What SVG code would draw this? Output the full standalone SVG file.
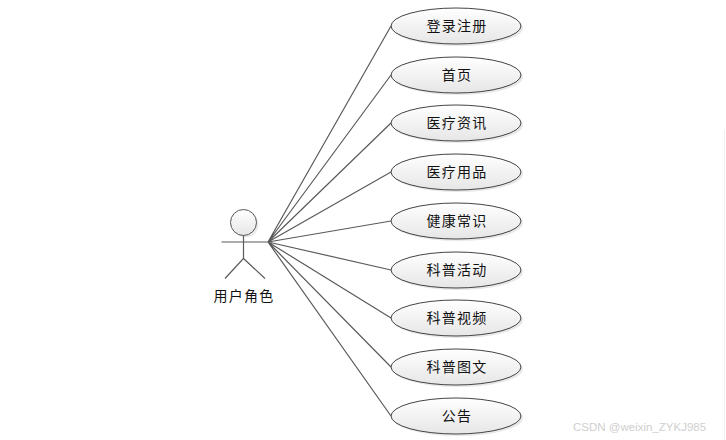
<svg xmlns="http://www.w3.org/2000/svg" width="726" height="440" viewBox="0 0 726 440">
<style>
.l{stroke:#5a5a5a;stroke-width:1.200;fill:none}
.e{fill:url(#g);stroke:#444;stroke-width:1}
.es{fill:#d8d8d8;opacity:.6}
.t{font-family:"Noto Sans CJK SC","Liberation Sans",sans-serif;font-size:14px;letter-spacing:1.200px;fill:#111;text-anchor:middle}
</style>
<defs>
<linearGradient id="g" x1="0" y1="0" x2="0" y2="1"><stop offset="0" stop-color="#ffffff"/><stop offset="1" stop-color="#e6e6e6"/></linearGradient>
<ellipse id="o" cx="456" cy="0" rx="65" ry="18"/>
</defs>
<rect width="726" height="440" fill="#fff"/>
<line x1="724.500" y1="130" x2="724.500" y2="440" stroke="#f0f0f0"/>
<g id="connectors">
<path class="l" d="M268 242L391 26M268 242L391 75M268 242L391 123M268 242L391 172M268 242L391 221M268 242L391 270M268 242L391 318M268 242L391 367M268 242L391 416"/>
</g>
<g id="actor">
<circle cx="245.500" cy="224.500" r="13" fill="#ddd" opacity=".6"/>
<circle cx="243.500" cy="222.500" r="13" fill="url(#g)" stroke="#555"/>
<path class="l" d="M221.500 242H268M243.500 235.500V258.500L225 278.500M243.500 258.500L265 278.500"/>
<text class="t" x="244" y="301">用户角色</text>
</g>
<g id="n1"><use href="#o" class="es" x="2" y="28"/><use href="#o" class="e" y="26"/><text class="t" x="457" y="31">登录注册</text></g>
<g id="n2"><use href="#o" class="es" x="2" y="77"/><use href="#o" class="e" y="75"/><text class="t" x="457" y="80">首页</text></g>
<g id="n3"><use href="#o" class="es" x="2" y="125"/><use href="#o" class="e" y="123"/><text class="t" x="457" y="128">医疗资讯</text></g>
<g id="n4"><use href="#o" class="es" x="2" y="174"/><use href="#o" class="e" y="172"/><text class="t" x="457" y="177">医疗用品</text></g>
<g id="n5"><use href="#o" class="es" x="2" y="223"/><use href="#o" class="e" y="221"/><text class="t" x="457" y="226">健康常识</text></g>
<g id="n6"><use href="#o" class="es" x="2" y="272"/><use href="#o" class="e" y="270"/><text class="t" x="457" y="275">科普活动</text></g>
<g id="n7"><use href="#o" class="es" x="2" y="320"/><use href="#o" class="e" y="318"/><text class="t" x="457" y="323">科普视频</text></g>
<g id="n8"><use href="#o" class="es" x="2" y="369"/><use href="#o" class="e" y="367"/><text class="t" x="457" y="372">科普图文</text></g>
<g id="n9"><use href="#o" class="es" x="2" y="418"/><use href="#o" class="e" y="416"/><text class="t" x="457" y="421">公告</text></g>
<text x="573" y="431" font-family="Liberation Sans,sans-serif" font-size="11.500" fill="#cfcfcf">CSDN @weixin_ZYKJ985</text>
</svg>
